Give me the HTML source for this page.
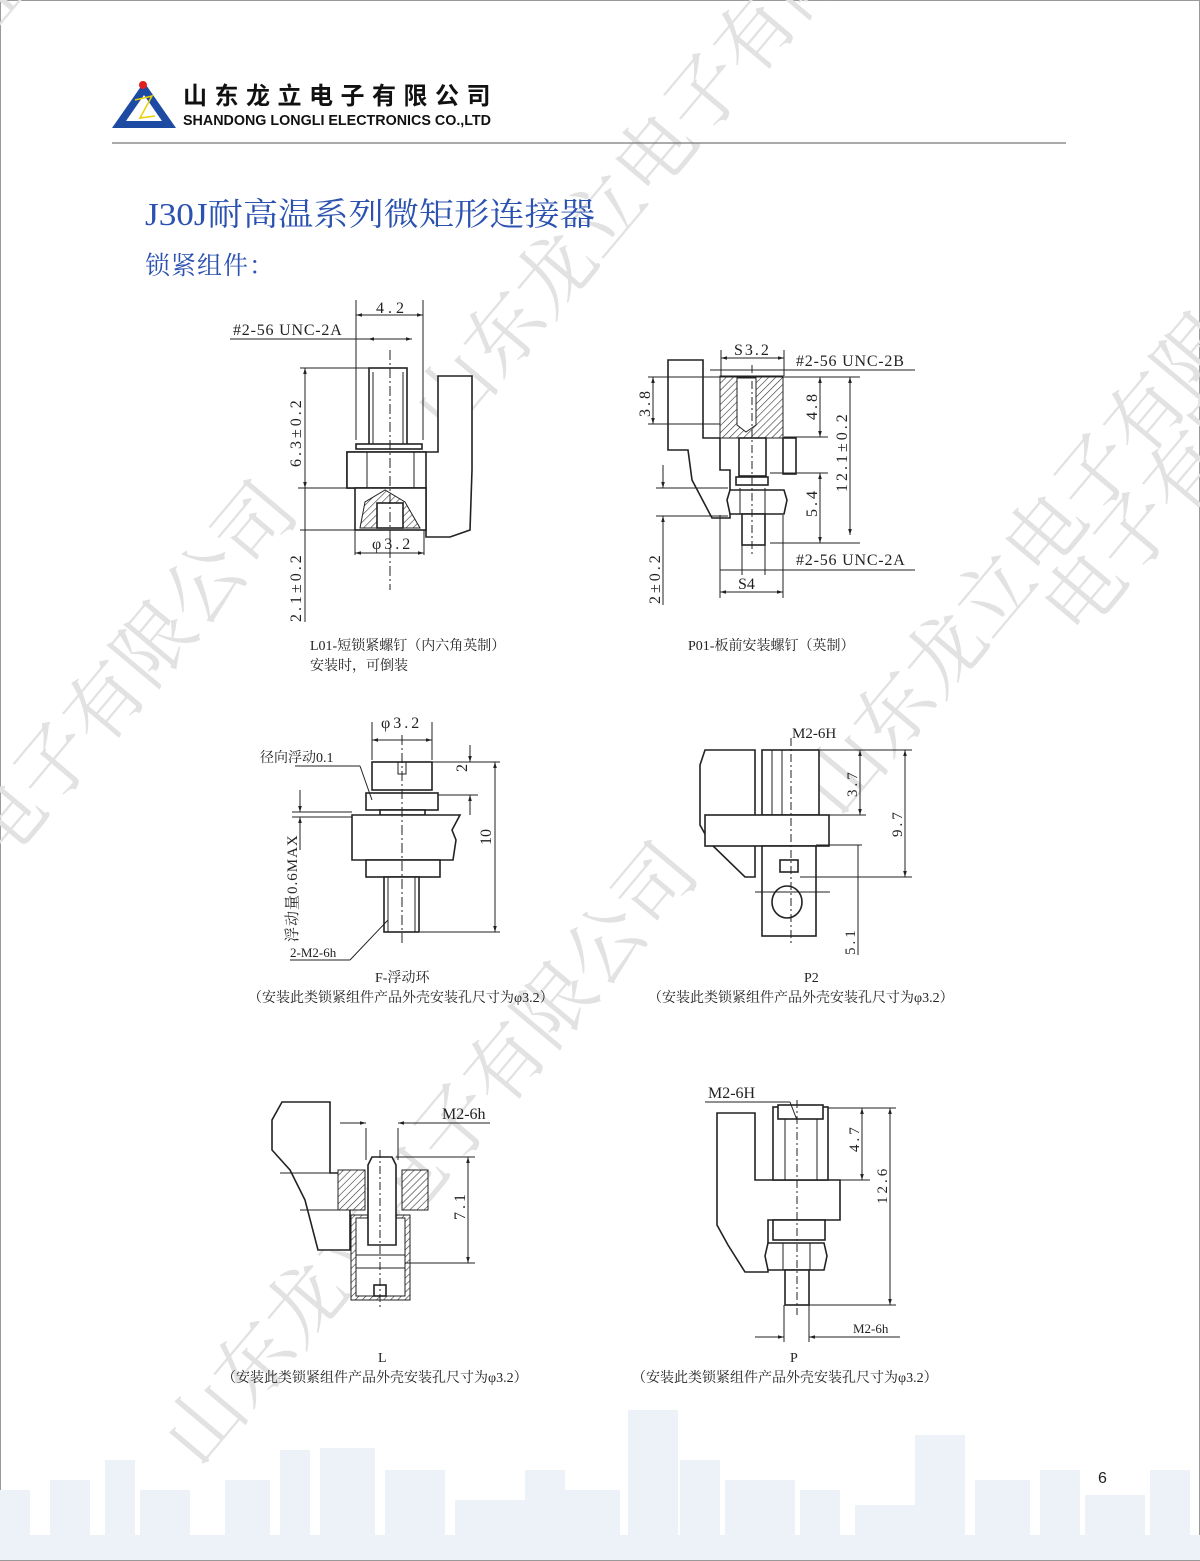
<!DOCTYPE html>
<html><head><meta charset="utf-8"><style>
html,body{margin:0;padding:0;background:#fff}
svg{display:block}
.s{font-family:"Liberation Serif","Noto Serif CJK SC",serif;fill:#222}
.d{stroke:#222;stroke-width:1;fill:none}
.t{stroke:#222;stroke-width:1.6;fill:#fff}
.w{font-family:"Noto Serif CJK SC",serif;fill:#e2e2e2;font-size:78px}
</style></head><body>
<svg width="1200" height="1561" viewBox="0 0 1200 1561" xmlns="http://www.w3.org/2000/svg">
<defs>
<pattern id="h" width="5" height="5" patternUnits="userSpaceOnUse" patternTransform="rotate(45)"><rect width="5" height="5" fill="#fff"/><line x1="0" y1="0" x2="0" y2="5" stroke="#333" stroke-width="1.2"/></pattern>
<marker id="a" viewBox="0 0 10 10" refX="10" refY="5" markerWidth="9" markerHeight="6" orient="auto-start-reverse"><path d="M0,2 L10,5 L0,8z" fill="#222"/></marker>
</defs>
<rect x="0.5" y="0.5" width="1199" height="1560" fill="#fff" stroke="#999"/>
<!-- skyline -->
<g fill="#edf1f8">
<rect x="0" y="1490" width="30" height="70"/><rect x="50" y="1480" width="40" height="80"/><rect x="105" y="1460" width="30" height="100"/><rect x="140" y="1490" width="50" height="70"/>
<rect x="225" y="1480" width="45" height="80"/><rect x="280" y="1450" width="30" height="110"/><rect x="320" y="1448" width="55" height="112"/><rect x="385" y="1470" width="60" height="90"/>
<rect x="455" y="1500" width="70" height="60"/><rect x="525" y="1470" width="40" height="90"/><rect x="565" y="1490" width="55" height="70"/><rect x="628" y="1410" width="50" height="150"/>
<rect x="680" y="1460" width="40" height="100"/><rect x="725" y="1480" width="70" height="80"/><rect x="800" y="1490" width="40" height="70"/><rect x="855" y="1505" width="60" height="55"/>
<rect x="915" y="1435" width="50" height="125"/><rect x="975" y="1480" width="55" height="80"/><rect x="1040" y="1470" width="40" height="90"/><rect x="1085" y="1495" width="60" height="65"/><rect x="1150" y="1470" width="40" height="90"/>
<rect x="0" y="1535" width="1200" height="25"/>
</g>
<!-- watermarks -->
<g class="w">
<text transform="translate(-10,40) rotate(-50)">山东龙立电子有限公司</text>
<text transform="translate(0,870) rotate(-50)">电子有限公司</text>
<text transform="translate(450,440) rotate(-50)">山东龙立电子有限公司</text>
<text transform="translate(200,1470) rotate(-50)">山东龙立电子有限公司</text>
<text transform="translate(840,820) rotate(-50)">山东龙立电子有限</text>
<text transform="translate(1080,640) rotate(-50)">电子有限</text>
</g>
<!-- header -->
<polygon points="112,128 144,82 176,128" fill="#1d4aa3"/>
<polygon points="126,121 144,95 162,121" fill="#fff"/>
<circle cx="143" cy="85" r="4" fill="#e02020"/>
<path d="M135,100 L152,96 L140,118 L155,116" stroke="#e8d000" stroke-width="1.5" fill="none"/>
<text x="183" y="104" font-family="Liberation Sans,'Noto Sans CJK SC',sans-serif" font-weight="bold" font-size="24" letter-spacing="7.5" fill="#111">山东龙立电子有限公司</text>
<text x="183" y="125" font-family="Liberation Sans,sans-serif" font-weight="bold" font-size="14.5" fill="#111" textLength="308" lengthAdjust="spacingAndGlyphs">SHANDONG LONGLI ELECTRONICS CO.,LTD</text>
<line x1="112" y1="143" x2="1066" y2="143" stroke="#777" stroke-width="1.2"/>
<text x="145" y="225" font-family="'Liberation Serif','Noto Serif CJK SC',serif" font-size="32" fill="#2b52b0" textLength="450" lengthAdjust="spacingAndGlyphs">J30J耐高温系列微矩形连接器</text>
<text x="145" y="274" font-family="'Noto Serif CJK SC',serif" font-size="25" letter-spacing="1" fill="#2b52b0">锁紧组件：</text>

<!-- Drawing 1 L01 -->
<g>
<path class="t" d="M438,376 H472 V470 L470,530 L450,537 H426 V488 H347 V452 H438Z"/>
<rect class="t" x="347" y="452" width="79" height="36"/>
<line class="d" x1="367" y1="452" x2="367" y2="488"/><line class="d" x1="414" y1="452" x2="414" y2="488"/>
<rect class="t" x="369" y="368" width="38" height="77"/>
<line class="d" x1="373" y1="372" x2="373" y2="445"/><line class="d" x1="403" y1="372" x2="403" y2="445"/>
<rect class="t" x="356" y="444" width="66" height="5"/>
<rect class="t" x="355" y="488" width="71" height="42"/>
<path d="M360,528 L365,502 L385,490 L405,502 L420,528Z" fill="url(#h)" stroke="#222"/>
<rect class="t" x="377" y="503" width="26" height="25"/>
<line x1="390" y1="350" x2="390" y2="590" stroke="#222" stroke-dasharray="10,3,2,3"/>
<line class="d" x1="356" y1="300" x2="356" y2="440"/><line class="d" x1="423" y1="300" x2="423" y2="440"/>
<line class="d" x1="356" y1="315" x2="423" y2="315" marker-start="url(#a)" marker-end="url(#a)"/>
<text class="s" x="376" y="313" font-size="16" letter-spacing="4">4.2</text>
<line class="d" x1="230" y1="339" x2="412" y2="339"/>
<line class="d" x1="368" y1="339" x2="412" y2="339" marker-start="url(#a)" marker-end="url(#a)"/>
<text class="s" x="233" y="335" font-size="16" letter-spacing="0.8">#2-56 UNC-2A</text>
<line class="d" x1="300" y1="368" x2="369" y2="368"/><line class="d" x1="298" y1="488" x2="356" y2="488"/><line class="d" x1="300" y1="530" x2="355" y2="530"/>
<line class="d" x1="305" y1="368" x2="305" y2="488" marker-start="url(#a)" marker-end="url(#a)"/>
<line class="d" x1="305" y1="488" x2="305" y2="622"/>
<text class="s" font-size="16" letter-spacing="3" transform="translate(301,467) rotate(-90)">6.3±0.2</text>
<text class="s" font-size="16" letter-spacing="3" transform="translate(301,622) rotate(-90)">2.1±0.2</text>
<line class="d" x1="355" y1="530" x2="355" y2="555"/><line class="d" x1="424" y1="530" x2="424" y2="555"/>
<line class="d" x1="355" y1="553" x2="424" y2="553" marker-start="url(#a)" marker-end="url(#a)"/>
<text class="s" x="372" y="549" font-size="16" letter-spacing="3">φ3.2</text>
<text class="s" x="310" y="650" font-size="14">L01-短锁紧螺钉（内六角英制）</text>
<text class="s" x="310" y="670" font-size="14">安装时，可倒装</text>
</g>

<!-- Drawing 2 P01 -->
<g>
<path class="t" d="M668,360 H703 V438 H720 V470 H730 V518 H712 L692,480 L688,450 H668Z"/>
<rect x="720" y="376" width="63" height="62" fill="url(#h)" stroke="#222"/>
<path d="M737,378 H756 V425 L746,432 L737,425Z" fill="#fff" stroke="#222"/>
<rect class="t" x="783" y="438" width="13" height="36"/>
<line class="d" x1="703" y1="438" x2="796" y2="438"/>
<rect class="t" x="739" y="438" width="27" height="38"/>
<rect class="t" x="736" y="477" width="32" height="8"/>
<path class="t" d="M730,490 H784 L787,500 L784,514 H730 L727,500Z"/>
<line class="d" x1="740" y1="488" x2="740" y2="514"/><line class="d" x1="765" y1="488" x2="765" y2="514"/>
<rect class="t" x="742" y="514" width="23" height="31"/>
<line x1="752" y1="365" x2="752" y2="555" stroke="#222" stroke-dasharray="8,3,2,3"/>
<line class="d" x1="721" y1="350" x2="721" y2="376"/><line class="d" x1="784" y1="350" x2="784" y2="376"/>
<line class="d" x1="721" y1="358" x2="784" y2="358" marker-start="url(#a)" marker-end="url(#a)"/>
<text class="s" x="734" y="355" font-size="16" letter-spacing="2">S3.2</text>
<line class="d" x1="710" y1="370" x2="915" y2="370"/>
<text class="s" x="796" y="366" font-size="16" letter-spacing="0.8">#2-56 UNC-2B</text>
<line class="d" x1="648" y1="377" x2="860" y2="377"/><line class="d" x1="648" y1="424" x2="720" y2="424"/>
<line class="d" x1="653" y1="377" x2="653" y2="424" marker-start="url(#a)" marker-end="url(#a)"/>
<text class="s" font-size="16" letter-spacing="3" transform="translate(650,417) rotate(-90)">3.8</text>
<line class="d" x1="784" y1="437" x2="828" y2="437"/>
<line class="d" x1="820" y1="377" x2="820" y2="437" marker-start="url(#a)" marker-end="url(#a)"/>
<text class="s" font-size="16" letter-spacing="3" transform="translate(817,420) rotate(-90)">4.8</text>
<line class="d" x1="850" y1="377" x2="850" y2="535" marker-start="url(#a)" marker-end="url(#a)"/>
<text class="s" font-size="16" letter-spacing="3" transform="translate(847,492) rotate(-90)">12.1±0.2</text>
<line class="d" x1="770" y1="473" x2="828" y2="473"/><line class="d" x1="770" y1="543" x2="860" y2="543"/>
<line class="d" x1="820" y1="473" x2="820" y2="543" marker-start="url(#a)" marker-end="url(#a)"/>
<text class="s" font-size="16" letter-spacing="3" transform="translate(817,517) rotate(-90)">5.4</text>
<line class="d" x1="656" y1="488" x2="728" y2="488"/><line class="d" x1="656" y1="516" x2="728" y2="516"/>
<line class="d" x1="663" y1="465" x2="663" y2="488" marker-end="url(#a)"/>
<line class="d" x1="663" y1="516" x2="663" y2="605" marker-start="url(#a)"/>
<text class="s" font-size="16" letter-spacing="3" transform="translate(660,604) rotate(-90)">2±0.2</text>
<line class="d" x1="720" y1="515" x2="720" y2="598"/><line class="d" x1="783" y1="515" x2="783" y2="598"/>
<line class="d" x1="742" y1="545" x2="742" y2="575"/><line class="d" x1="765" y1="545" x2="765" y2="575"/>
<line class="d" x1="720" y1="570" x2="915" y2="570"/>
<text class="s" x="796" y="565" font-size="16" letter-spacing="0.8">#2-56 UNC-2A</text>
<line class="d" x1="720" y1="592" x2="783" y2="592" marker-start="url(#a)" marker-end="url(#a)"/>
<text class="s" x="738" y="589" font-size="16">S4</text>
<text class="s" x="688" y="650" font-size="14">P01-板前安装螺钉（英制）</text>
</g>

<!-- Drawing 3 F -->
<g>
<rect class="t" x="372" y="762" width="60" height="28"/>
<path class="d" d="M398,762 V774 H406 V762"/>
<rect class="t" x="366" y="793" width="72" height="17"/>
<rect class="t" x="380" y="810" width="45" height="5"/>
<path class="t" d="M352,815 H460 L452,830 L456,840 L453,860 H352Z"/>
<rect class="t" x="366" y="860" width="74" height="17"/>
<rect class="t" x="384" y="877" width="35" height="55"/>
<line class="d" x1="388" y1="877" x2="388" y2="932"/><line class="d" x1="415" y1="877" x2="415" y2="932"/>
<line x1="402" y1="735" x2="402" y2="945" stroke="#222" stroke-dasharray="10,3,2,3"/>
<line class="d" x1="372" y1="722" x2="372" y2="760"/><line class="d" x1="432" y1="722" x2="432" y2="760"/>
<line class="d" x1="372" y1="740" x2="432" y2="740" marker-start="url(#a)" marker-end="url(#a)"/>
<text class="s" x="381" y="728" font-size="16" letter-spacing="3">φ3.2</text>
<line class="d" x1="432" y1="762" x2="500" y2="762"/><line class="d" x1="438" y1="795" x2="478" y2="795"/>
<line class="d" x1="470" y1="745" x2="470" y2="762" marker-end="url(#a)"/>
<line class="d" x1="470" y1="795" x2="470" y2="815" marker-start="url(#a)"/>
<text class="s" font-size="16" transform="translate(467,772) rotate(-90)">2</text>
<line class="d" x1="420" y1="932" x2="500" y2="932"/>
<line class="d" x1="495" y1="762" x2="495" y2="932" marker-start="url(#a)" marker-end="url(#a)"/>
<text class="s" font-size="16" transform="translate(491,845) rotate(-90)">10</text>
<text class="s" x="260" y="762" font-size="14">径向浮动0.1</text>
<line class="d" x1="295" y1="766" x2="360" y2="766"/><line class="d" x1="360" y1="766" x2="372" y2="800"/>
<line class="d" x1="292" y1="812" x2="352" y2="812"/><line class="d" x1="292" y1="817" x2="352" y2="817"/>
<line class="d" x1="300" y1="790" x2="300" y2="812" marker-end="url(#a)"/>
<line class="d" x1="300" y1="817" x2="300" y2="850" marker-start="url(#a)"/>
<text class="s" font-size="15" letter-spacing="1" transform="translate(297,942) rotate(-90)">浮动量0.6MAX</text>
<text class="s" x="290" y="957" font-size="13">2-M2-6h</text>
<line class="d" x1="290" y1="960" x2="350" y2="960"/><line class="d" x1="350" y1="960" x2="388" y2="920"/>
<text class="s" x="375" y="982" font-size="14">F-浮动环</text>
<text class="s" x="248" y="1002" font-size="14">（安装此类锁紧组件产品外壳安装孔尺寸为φ3.2）</text>
</g>

<!-- Drawing 4 P2 -->
<g>
<path class="t" d="M705,750 H755 V877 H745 L710,843 L700,825 L700,765Z"/>
<rect class="t" x="762" y="750" width="57" height="65"/>
<line class="d" x1="772" y1="750" x2="772" y2="815"/><line class="d" x1="782" y1="750" x2="782" y2="815"/>
<rect class="t" x="705" y="815" width="124" height="31"/>
<rect class="t" x="762" y="846" width="54" height="90"/>
<rect class="t" x="780" y="860" width="18" height="12"/>
<ellipse class="t" cx="787" cy="902" rx="15" ry="16"/>
<line x1="791" y1="738" x2="791" y2="945" stroke="#222" stroke-dasharray="8,3,2,3"/>
<line class="d" x1="755" y1="892" x2="830" y2="892"/>
<text class="s" x="792" y="738" font-size="15">M2-6H</text>
<line class="d" x1="820" y1="750" x2="912" y2="750"/><line class="d" x1="829" y1="815" x2="866" y2="815"/>
<line class="d" x1="860" y1="750" x2="860" y2="815" marker-start="url(#a)" marker-end="url(#a)"/>
<text class="s" font-size="15" letter-spacing="3" transform="translate(857,797) rotate(-90)">3.7</text>
<line class="d" x1="800" y1="877" x2="912" y2="877"/>
<line class="d" x1="905" y1="750" x2="905" y2="877" marker-start="url(#a)" marker-end="url(#a)"/>
<text class="s" font-size="15" letter-spacing="3" transform="translate(902,837) rotate(-90)">9.7</text>
<line class="d" x1="816" y1="845" x2="862" y2="845"/>
<line class="d" x1="858" y1="845" x2="858" y2="955"/>
<text class="s" font-size="15" letter-spacing="3" transform="translate(855,955) rotate(-90)">5.1</text>
<text class="s" x="804" y="982" font-size="14">P2</text>
<text class="s" x="648" y="1002" font-size="14">（安装此类锁紧组件产品外壳安装孔尺寸为φ3.2）</text>
</g>

<!-- Drawing 5 L -->
<g>
<path class="t" d="M282,1102 H330 V1173 H350 V1207 L350,1250 H318 L305,1200 L290,1170 L272,1150 V1120Z"/>
<line class="d" x1="280" y1="1173" x2="350" y2="1173"/><line class="d" x1="300" y1="1210" x2="350" y2="1210"/>
<path d="M338,1170 H365 V1210 H338Z" fill="url(#h)" stroke="#222"/>
<path d="M402,1170 H428 V1210 H402Z" fill="url(#h)" stroke="#222"/>
<path d="M351,1215 H410 V1300 H351Z" fill="url(#h)" stroke="#222"/>
<rect x="356" y="1218" width="49" height="78" fill="#fff" stroke="#222"/>
<path class="t" d="M368,1165 L372,1157 H392 L396,1165 V1245 H368Z"/>
<line class="d" x1="356" y1="1255" x2="405" y2="1255"/><line class="d" x1="356" y1="1268" x2="405" y2="1268"/>
<rect class="t" x="374" y="1285" width="12" height="11"/>
<line x1="380" y1="1150" x2="380" y2="1310" stroke="#222" stroke-dasharray="8,3,2,3"/>
<line class="d" x1="366" y1="1128" x2="366" y2="1160"/><line class="d" x1="398" y1="1128" x2="398" y2="1160"/>
<line class="d" x1="340" y1="1123" x2="366" y2="1123" marker-end="url(#a)"/>
<line class="d" x1="398" y1="1123" x2="490" y2="1123" marker-start="url(#a)"/>
<text class="s" x="442" y="1119" font-size="16">M2-6h</text>
<line class="d" x1="396" y1="1157" x2="475" y2="1157"/><line class="d" x1="405" y1="1263" x2="475" y2="1263"/>
<line class="d" x1="468" y1="1157" x2="468" y2="1263" marker-start="url(#a)" marker-end="url(#a)"/>
<text class="s" font-size="16" letter-spacing="3" transform="translate(465,1220) rotate(-90)">7.1</text>
<text class="s" x="378" y="1362" font-size="14">L</text>
<text class="s" x="222" y="1382" font-size="14">（安装此类锁紧组件产品外壳安装孔尺寸为φ3.2）</text>
</g>

<!-- Drawing 6 P -->
<g>
<path class="t" d="M717,1113 H755 V1180 H840 V1220 H768 V1272 H745 L728,1245 L717,1225Z"/>
<rect class="t" x="773" y="1107" width="55" height="73"/>
<rect class="t" x="778" y="1105" width="45" height="14"/>
<line class="d" x1="785" y1="1119" x2="785" y2="1180"/><line class="d" x1="817" y1="1119" x2="817" y2="1180"/>
<rect class="t" x="773" y="1220" width="52" height="20"/>
<path class="t" d="M768,1243 H824 L827,1256 L824,1270 H768 L765,1256Z"/>
<line class="d" x1="783" y1="1243" x2="783" y2="1270"/><line class="d" x1="810" y1="1243" x2="810" y2="1270"/>
<rect class="t" x="785" y="1270" width="24" height="35"/>
<line x1="797" y1="1100" x2="797" y2="1315" stroke="#222" stroke-dasharray="8,3,2,3"/>
<text class="s" x="708" y="1098" font-size="16">M2-6H</text>
<line class="d" x1="705" y1="1102" x2="790" y2="1102"/><line class="d" x1="790" y1="1102" x2="797" y2="1120"/>
<line class="d" x1="828" y1="1108" x2="896" y2="1108"/><line class="d" x1="828" y1="1180" x2="870" y2="1180"/>
<line class="d" x1="862" y1="1108" x2="862" y2="1180" marker-start="url(#a)" marker-end="url(#a)"/>
<text class="s" font-size="15" letter-spacing="3" transform="translate(859,1152) rotate(-90)">4.7</text>
<line class="d" x1="809" y1="1305" x2="896" y2="1305"/>
<line class="d" x1="890" y1="1108" x2="890" y2="1305" marker-start="url(#a)" marker-end="url(#a)"/>
<text class="s" font-size="15" letter-spacing="3" transform="translate(887,1204) rotate(-90)">12.6</text>
<line class="d" x1="784" y1="1305" x2="784" y2="1342"/><line class="d" x1="809" y1="1305" x2="809" y2="1342"/>
<line class="d" x1="755" y1="1337" x2="784" y2="1337" marker-end="url(#a)"/>
<line class="d" x1="809" y1="1337" x2="900" y2="1337" marker-start="url(#a)"/>
<text class="s" x="853" y="1333" font-size="13">M2-6h</text>
<text class="s" x="790" y="1362" font-size="14">P</text>
<text class="s" x="632" y="1382" font-size="14">（安装此类锁紧组件产品外壳安装孔尺寸为φ3.2）</text>
</g>

<text x="1098" y="1483" font-family="Liberation Sans,sans-serif" font-size="16" fill="#222">6</text>
</svg>
</body></html>
